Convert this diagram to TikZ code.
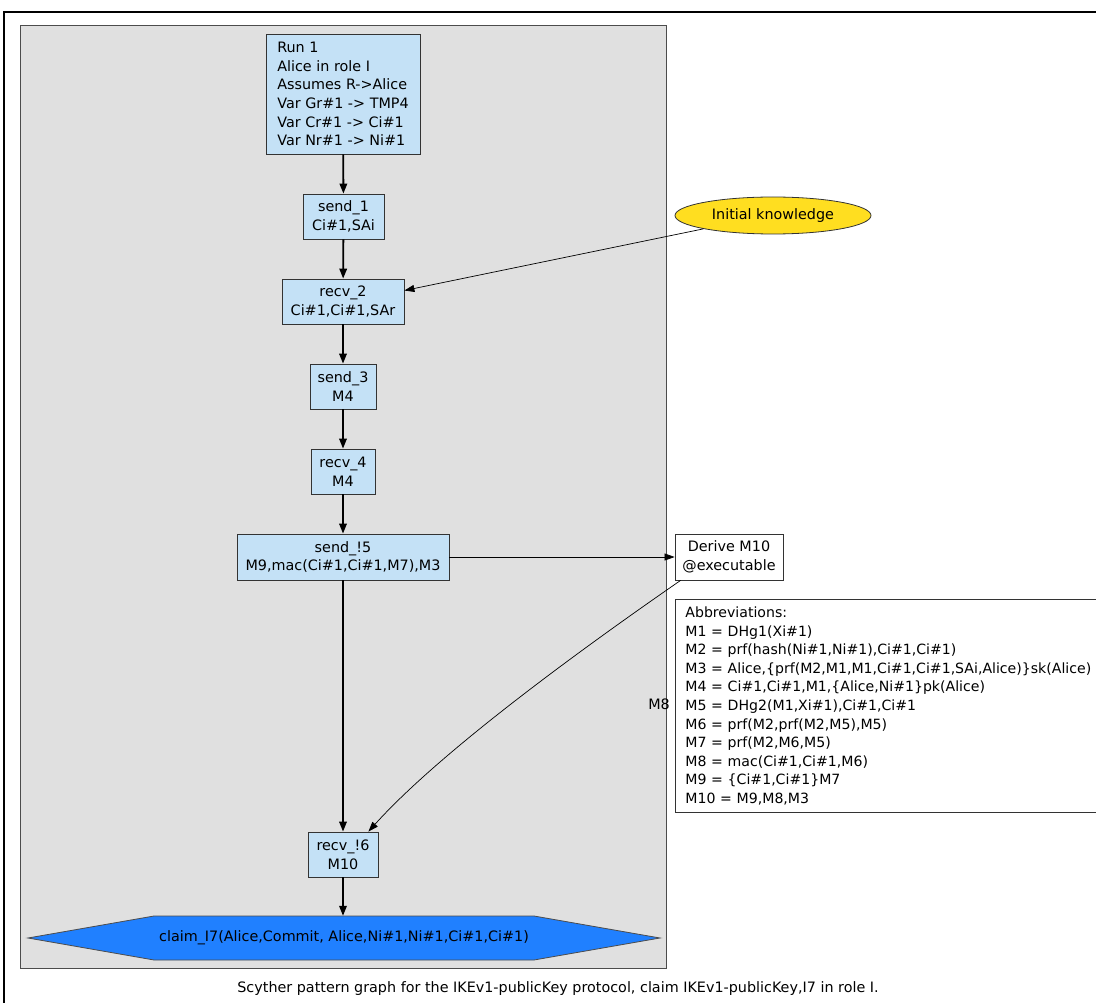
\documentclass[tikz,border=0pt]{standalone}
\usepackage{fontspec}
\setmainfont{DejaVu Sans}
\usetikzlibrary{arrows.meta,calc,shapes.geometric}
\definecolor{evblue}{RGB}{196,225,246}
\definecolor{clgray}{RGB}{224,224,224}
\definecolor{claimblue}{RGB}{32,128,255}
\definecolor{ikyellow}{RGB}{255,222,32}
\begin{document}
\begin{tikzpicture}[x=1pt,y=-1pt,
  font=\fontsize{14.35}{18.6}\selectfont,
  evt/.style={draw=black!80, fill=evblue, inner sep=0pt, align=center, line width=0.8pt},
  plainbox/.style={draw=black!80, fill=white, inner sep=0pt, align=center, line width=0.8pt},
  flow/.style={line width=1.8pt, -{Triangle[length=10pt,width=7.5pt]}},
  thinflow/.style={line width=0.7pt, -{Triangle[length=10pt,width=7pt]}}]
\useasboundingbox (0,0) rectangle (1096,1003);
% outer frame
\draw[line width=1.6pt] (4,1020) -- (4,12) -- (1110,12);
% cluster
\draw[fill=clgray, draw=black!70, line width=0.8pt] (20,25) rectangle (666,968);
% nodes
\node[evt, minimum width=154, minimum height=120, align=left] (run) at (343,94)
  {Run 1\\Alice in role I\\Assumes R->Alice\\Var Gr\#1 -> TMP4\\Var Cr\#1 -> Ci\#1\\Var Nr\#1 -> Ni\#1};
\node[evt, minimum width=81, minimum height=45] (s1) at (343.5,216.5) {send\_1\\Ci\#1,SAi};
\node[evt, minimum width=122, minimum height=45] (r2) at (343,301.5) {recv\_2\\Ci\#1,Ci\#1,SAr};
\node[evt, minimum width=66, minimum height=45] (s3) at (343,386.5) {send\_3\\M4};
\node[evt, minimum width=64, minimum height=45] (r4) at (343,471.5) {recv\_4\\M4};
\node[evt, minimum width=212, minimum height=46] (s5) at (343,557) {send\_!5\\M9,mac(Ci\#1,Ci\#1,M7),M3};
\node[evt, minimum width=70, minimum height=45] (r6) at (343,854.5) {recv\_!6\\M10};
% claim hexagon
\coordinate (clc) at (344,938);
\draw[fill=claimblue, draw=black!70, line width=0.8pt]
  ($(clc)+(-316,0)$) -- ($(clc)+(-190,-22)$) -- ($(clc)+(190,-22)$) -- ($(clc)+(316,0)$)
  -- ($(clc)+(190,22)$) -- ($(clc)+(-190,22)$) -- cycle;
\node[inner sep=0pt, minimum width=632, minimum height=44] (claim) at (clc)
  {claim\_I7(Alice,Commit, Alice,Ni\#1,Ni\#1,Ci\#1,Ci\#1)};
% right side
\node[ellipse, draw=black!80, fill=ikyellow, inner sep=0pt, minimum width=196, minimum height=37, line width=0.8pt] (ik) at (773,215.5) {Initial knowledge};
\node[plainbox, minimum width=108, minimum height=46] (der) at (729,557) {Derive M10\\@executable};
\node[draw=black!80, fill=white, line width=0.8pt, anchor=north west, minimum width=440, minimum height=213,
  inner xsep=8pt, inner ysep=4pt, text width=420, align=left, font=\fontsize{14.1}{18.6}\selectfont] (abbr) at (675,599)
  {Abbreviations:\\
   M1 = DHg1(Xi\#1)\\
   M2 = prf(hash(Ni\#1,Ni\#1),Ci\#1,Ci\#1)\\
   M3 = Alice,\{prf(M2,M1,M1,Ci\#1,Ci\#1,SAi,Alice)\}sk(Alice)\\
   M4 = Ci\#1,Ci\#1,M1,\{Alice,Ni\#1\}pk(Alice)\\
   M5 = DHg2(M1,Xi\#1),Ci\#1,Ci\#1\\
   M6 = prf(M2,prf(M2,M5),M5)\\
   M7 = prf(M2,M6,M5)\\
   M8 = mac(Ci\#1,Ci\#1,M6)\\
   M9 = \{Ci\#1,Ci\#1\}M7\\
   M10 = M9,M8,M3};
% edges
\draw[flow] (run) -- (s1);
\draw[flow] (s1) -- (r2);
\draw[flow] (r2) -- (s3);
\draw[flow] (s3) -- (r4);
\draw[flow] (r4) -- (s5);
\draw[flow] (s5) -- (r6);
\draw[flow] (r6.south) -- (r6.south |- claim.north);
\draw[thinflow] (ik.south west) -- ([yshift=11pt]r2.east);
\draw[thinflow] (s5.east) -- (der.west);
\draw[thinflow] ([xshift=6pt]der.south west) .. controls (580,650) and (440,752) .. ([xshift=-10pt]r6.north east);
\node[anchor=east, inner sep=0pt] (m8) at (670,704) {M8};
% caption
\node[inner sep=0pt] (cap) at (558,989) {Scyther pattern graph for the IKEv1-publicKey protocol, claim IKEv1-publicKey,I7 in role I.};
\end{tikzpicture}
\end{document}
